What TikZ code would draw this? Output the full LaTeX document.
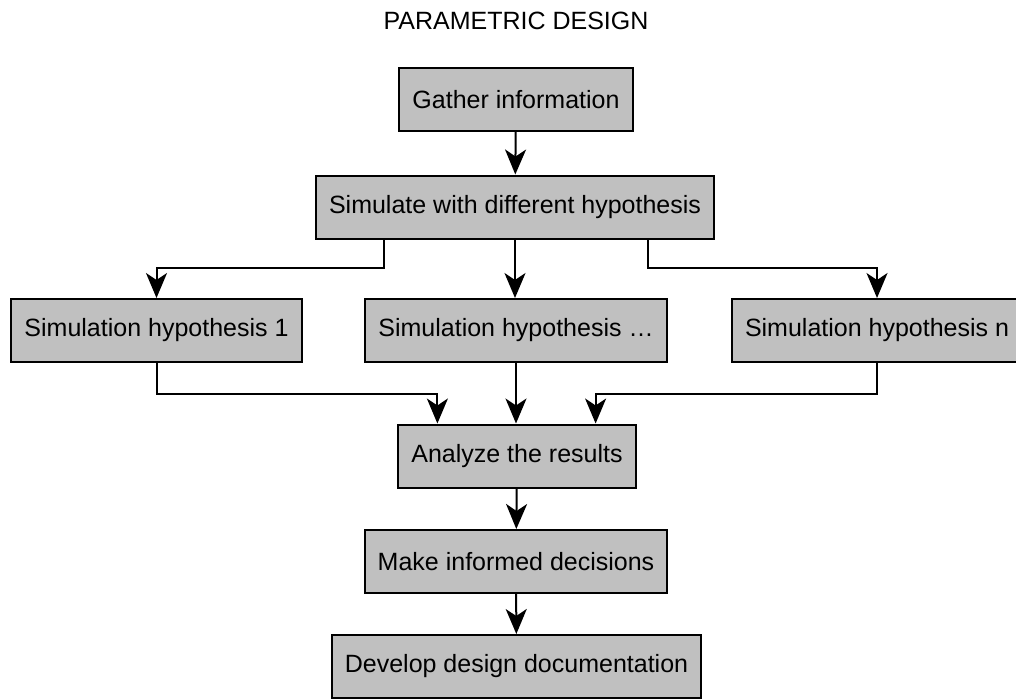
\documentclass[tikz,border=0pt]{standalone}
\usepackage{fontspec}
\setmainfont{Liberation Sans}
\usetikzlibrary{arrows.meta}
\definecolor{boxgray}{RGB}{192,192,192}
\tikzset{
  stepbox/.style={draw,line width=2pt,fill=boxgray,inner xsep=13pt,minimum height=63pt,font=\fontsize{25}{30}\selectfont},
  flow/.style={-{Stealth[length=25pt,width=21pt,inset=7pt]},line width=2pt}
}
\begin{document}
\begin{tikzpicture}[x=1pt,y=-1pt]
\useasboundingbox (0,0) rectangle (1016,699);
\node[font=\fontsize{25}{30}\selectfont] (T) at (516,21) {PARAMETRIC DESIGN};
\node[stepbox] (G) at (516,99.5) {Gather information};
\node[stepbox] (S) at (515,207) {Simulate with different hypothesis};
\node[stepbox] (H1) at (156.5,330.5) {Simulation hypothesis 1};
\node[stepbox] (HD) at (516,330.5) {Simulation hypothesis …};
\node[stepbox,anchor=west] (HN) at (731,330.5) {Simulation hypothesis n};
\node[stepbox] (A) at (517,456) {Analyze the results};
\node[stepbox] (M) at (516,561.5) {Make informed decisions};
\node[stepbox] (D) at (516.5,666.5) {Develop design documentation};
\draw[flow] (G)--(S);
\draw[flow] ([xshift=69pt]S.south west)--++(0,28)-|(H1.north);
\draw[flow] (S.south)--(S.south|-HD.north);
\draw[flow] ([xshift=-67pt]S.south east)--++(0,28)-|(HN.north);
\draw[flow] (H1.south)--++(0,31)-|([xshift=40pt]A.north west);
\draw[flow] (HD.south)--(HD.south|-A.north);
\draw[flow] (HN.south)--++(0,31)-|([xshift=-41pt]A.north east);
\draw[flow] (A)--(M);
\draw[flow] (M)--(D);
\end{tikzpicture}
\end{document}
